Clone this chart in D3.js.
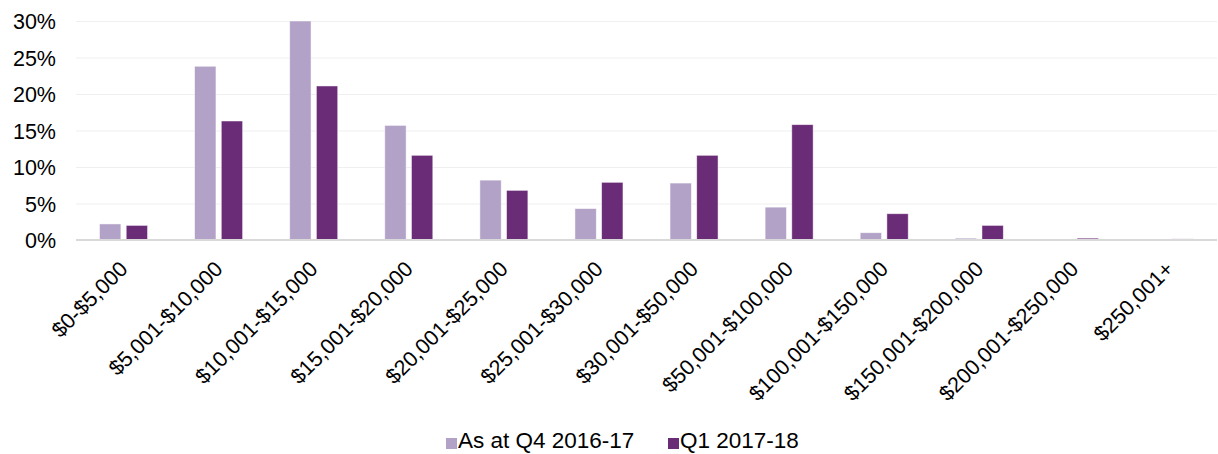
<!DOCTYPE html>
<html>
<head>
<meta charset="utf-8">
<script src="https://cdn.jsdelivr.net/npm/d3@7"></script>
<style>
  body { margin: 0; background: #fff; }
  text { font-family: "Liberation Sans", Arial, sans-serif; fill: #000; }
</style>
</head>
<body>
<svg id="chart" width="1218" height="454"></svg>
<script>
/*************************Data********************* */
const categories = [
  "$0-$5,000", "$5,001-$10,000", "$10,001-$15,000", "$15,001-$20,000",
  "$20,001-$25,000", "$25,001-$30,000", "$30,001-$50,000", "$50,001-$100,000",
  "$100,001-$150,000", "$150,001-$200,000", "$200,001-$250,000", "$250,001+"
];
const seriesNames = ["As at Q4 2016-17", "Q1 2017-18"];
const q4Values = [2.2, 23.8, 30.0, 15.7, 8.2, 4.3, 7.8, 4.5, 1.0, 0.25, 0.1, 0.05];
const q1Values = [2.0, 16.3, 21.1, 11.6, 6.8, 7.9, 11.6, 15.8, 3.6, 2.0, 0.25, 0.15];
const yTicks = [0, 5, 10, 15, 20, 25, 30];
const colors = ["#b3a2c7", "#6b2c77"];

/*************************Scales********************* */
const width = 1218;
const height = 454;
const plot = { left: 76, right: 1217, top: 21, bottom: 240 };
const svg = d3.select("svg#chart");

const scaleX = d3.scaleBand()
  .domain(categories)
  .range([plot.left, plot.right])
  .paddingInner(0.495)
  .paddingOuter(0.2475);
const scaleSub = d3.scaleBand()
  .domain(seriesNames)
  .range([0, scaleX.bandwidth()])
  .paddingInner(0.2);
const scaleY = d3.scaleLinear()
  .domain([0, 30])
  .range([plot.bottom, plot.top]);

/*************************Gridlines + y axis********************* */
const yAxis = d3.axisLeft(scaleY)
  .tickValues(yTicks)
  .tickFormat((d) => d + "%")
  .tickSize(-(plot.right - plot.left))
  .tickPadding(20);
const gy = svg.append("g")
  .attr("class", "y-axis")
  .attr("transform", `translate(${plot.left},0)`)
  .call(yAxis);
gy.select(".domain").remove();
gy.selectAll(".tick line").attr("stroke", "#efefef").attr("stroke-width", 1.2);
gy.selectAll(".tick text").style("font-size", "21.5px").attr("dy", "0.36em");

/*************************Bars********************* */
const rows = categories.map((c, i) => ({ cat: c, vals: [q4Values[i], q1Values[i]] }));
svg.append("g").attr("class", "bars")
  .selectAll("g")
  .data(rows)
  .join("g")
  .attr("transform", (d) => `translate(${scaleX(d.cat)},0)`)
  .selectAll("rect")
  .data((d) => d.vals.map((v, j) => ({ name: seriesNames[j], v: v, j: j })))
  .join("rect")
  .attr("x", (d) => scaleSub(d.name))
  .attr("width", scaleSub.bandwidth())
  .attr("y", (d) => scaleY(d.v))
  .attr("height", (d) => scaleY(0) - scaleY(d.v))
  .attr("fill", (d) => colors[d.j])
  .attr("stroke", "#fff")
  .attr("stroke-width", 0.8)
  .attr("stroke-opacity", 0.6);

/*************************X axis********************* */
const xAxis = d3.axisBottom(scaleX).tickSize(0).tickPadding(0);
const gx = svg.append("g")
  .attr("class", "x-axis")
  .attr("transform", `translate(0,${plot.bottom})`)
  .call(xAxis);
gx.select(".domain").attr("stroke", "#d9d9d9").attr("stroke-width", 2)
  .attr("d", `M${plot.left},0H${plot.right}`);
gx.selectAll(".tick text")
  .style("font-size", "21.5px")
  .attr("text-anchor", "end")
  .attr("y", 0)
  .attr("dy", "0.35em")
  .attr("transform", "translate(0,25) rotate(-45)");

/*************************Legend********************* */
const legend = svg.append("g").attr("class", "legend");
const legendX = [446, 668];
seriesNames.forEach((name, i) => {
  legend.append("rect")
    .attr("x", legendX[i]).attr("y", 438)
    .attr("width", 11).attr("height", 11)
    .attr("fill", colors[i]);
  legend.append("text")
    .attr("x", legendX[i] + 12).attr("y", 448)
    .style("font-size", "22.5px")
    .text(name);
});
</script>
</body>
</html>
